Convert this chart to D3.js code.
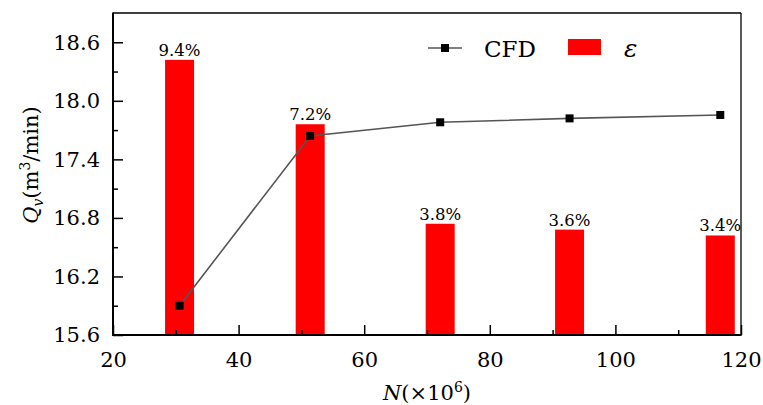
<!DOCTYPE html>
<html>
<head>
<meta charset="utf-8">
<script src="https://cdn.jsdelivr.net/npm/d3@7"></script>
<style>
  body { margin: 0; background: #fff; }
</style>
</head>
<body>
<div id="chart"></div>
<script>
// Data
const meshN = [30.6, 51.4, 72.1, 92.7, 116.7];            // N (x10^6)
const cfdQ = [15.90, 17.64, 17.78, 17.82, 17.855];          // Qv (m3/min)
const errPct = [9.4, 7.2, 3.8, 3.6, 3.4];                   // epsilon (%)
const xMajorTicks = [20, 40, 60, 80, 100, 120];
const xMinorTicks = [30, 50, 70, 90, 110];
const yMajorTicks = [15.6, 16.2, 16.8, 17.4, 18.0, 18.6];
const yMinorTicks = [15.9, 16.5, 17.1, 17.7, 18.3];

// Times-like serif is not available here, DejaVu Serif is the closest
const FONT = "DejaVu Serif, serif";

const W = 763, H = 405;
const margin = { top: 13, right: 22, bottom: 70, left: 113 };
const width = W - margin.left - margin.right;
const height = H - margin.top - margin.bottom;

const svg = d3.select('#chart').append('svg')
    .attr('width', W)
    .attr('height', H)
    .attr('font-family', FONT);

const g = svg.append('g')
    .attr('transform', `translate(${margin.left},${margin.top})`);

const x = d3.scaleLinear().domain([20, 120]).range([0, width]);
const y = d3.scaleLinear().domain([15.6, 18.9]).range([height, 0]);
// hidden scale for the error bars
const yErr = d3.scaleLinear().domain([0, 11]).range([height, 0]);

const barWidth = 29;

// Bars
g.selectAll('.bar')
    .data(meshN)
    .enter()
    .append('rect')
    .attr('class', 'bar')
    .attr('x', (d) => x(d) - barWidth / 2)
    .attr('width', barWidth)
    .attr('y', (d, i) => yErr(errPct[i]))
    .attr('height', (d, i) => height - yErr(errPct[i]))
    .attr('fill', '#ff0000');

// Bar labels
g.selectAll('.bar-label')
    .data(meshN)
    .enter()
    .append('text')
    .attr('class', 'bar-label')
    .attr('x', (d) => x(d))
    .attr('y', (d, i) => yErr(errPct[i]) - 4)
    .attr('text-anchor', 'middle')
    .attr('font-size', 16.5)
    .text((d, i) => errPct[i].toFixed(1) + '%');

// Axes (ticks pointing inward)
g.append('g')
    .attr('transform', `translate(0,${height})`)
    .call(d3.axisBottom(x).tickValues(xMajorTicks).tickSize(-10).tickPadding(17).tickFormat(d3.format('d')));

g.append('g')
    .attr('transform', `translate(0,${height})`)
    .call(d3.axisBottom(x).tickValues(xMinorTicks).tickSize(-5).tickFormat(''));

g.append('g')
    .call(d3.axisLeft(y).tickValues(yMajorTicks).tickSize(-10).tickPadding(13).tickFormat(d3.format('.1f')));

g.append('g')
    .call(d3.axisLeft(y).tickValues(yMinorTicks).tickSize(-5).tickFormat(''));

g.selectAll('.domain').remove();
// d3 axes set their own font-family; override it
g.selectAll('g').attr('font-family', FONT).attr('font-size', 21);
g.selectAll('.tick line').attr('stroke', '#000').attr('stroke-width', 1.5);
g.selectAll('.tick text').attr('fill', '#000');

// CFD line
const line = d3.line()
    .x((d) => x(d))
    .y((d, i) => y(cfdQ[i]));

g.append('path')
    .datum(meshN)
    .attr('d', line)
    .attr('fill', 'none')
    .attr('stroke', '#555')
    .attr('stroke-width', 1.6);

g.selectAll('.marker')
    .data(meshN)
    .enter()
    .append('rect')
    .attr('class', 'marker')
    .attr('x', (d) => x(d) - 4)
    .attr('y', (d, i) => y(cfdQ[i]) - 4)
    .attr('width', 8)
    .attr('height', 8)
    .attr('fill', '#000');

// Frame
g.append('line').attr('x1', 0).attr('x2', width).attr('y1', 0).attr('y2', 0)
    .attr('stroke', '#000').attr('stroke-width', 1.3);
g.append('line').attr('x1', width).attr('x2', width).attr('y1', 0).attr('y2', height)
    .attr('stroke', '#000').attr('stroke-width', 1.3);
g.append('line').attr('x1', 0).attr('x2', 0).attr('y1', -0.6).attr('y2', height + 1)
    .attr('stroke', '#000').attr('stroke-width', 2);
g.append('line').attr('x1', -1).attr('x2', width + 0.6).attr('y1', height).attr('y2', height)
    .attr('stroke', '#000').attr('stroke-width', 2);

// Legend
const legend = svg.append('g');
legend.append('line')
    .attr('x1', 428).attr('x2', 462).attr('y1', 48).attr('y2', 48)
    .attr('stroke', '#555').attr('stroke-width', 1.6);
legend.append('rect')
    .attr('x', 441).attr('y', 44).attr('width', 8).attr('height', 8)
    .attr('fill', '#000');
legend.append('text')
    .attr('x', 484).attr('y', 57)
    .attr('font-size', 23)
    .text('CFD');
legend.append('rect')
    .attr('x', 568).attr('y', 39).attr('width', 33).attr('height', 16)
    .attr('fill', '#ff0000');
legend.append('text')
    .attr('x', 624).attr('y', 57)
    .attr('font-size', 25)
    .attr('font-style', 'italic')
    .text('ε');

// X axis title
const xt = svg.append('text')
    .attr('x', 427).attr('y', 400)
    .attr('text-anchor', 'middle')
    .attr('font-size', 21);
xt.append('tspan').attr('font-style', 'italic').text('N');
xt.append('tspan').text('(×10');
xt.append('tspan').attr('dy', -8).attr('font-size', 14).text('6');
xt.append('tspan').attr('dy', 8).text(')');

// Y axis title
const yt = svg.append('text')
    .attr('transform', 'translate(38,165) rotate(-90)')
    .attr('text-anchor', 'middle')
    .attr('font-size', 21);
yt.append('tspan').attr('font-style', 'italic').text('Q');
yt.append('tspan').attr('dy', 5).attr('font-size', 14).attr('font-style', 'italic').text('v');
yt.append('tspan').attr('dy', -5).text('(m');
yt.append('tspan').attr('dy', -8).attr('font-size', 14).text('3');
yt.append('tspan').attr('dy', 8).text('/min)');
</script>
</body>
</html>
